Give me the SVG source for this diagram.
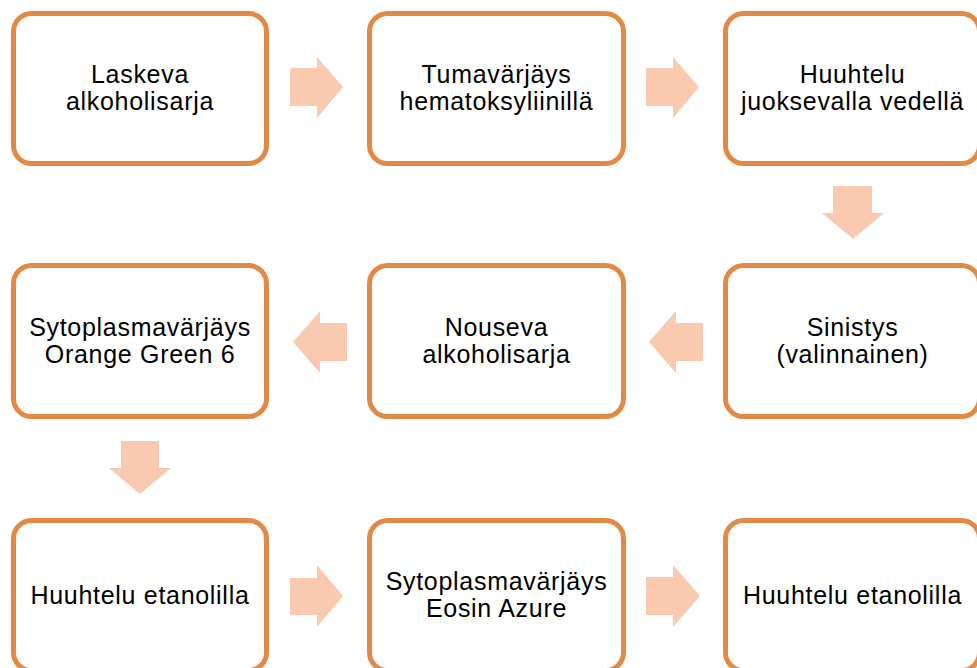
<svg xmlns="http://www.w3.org/2000/svg" width="977" height="668" viewBox="0 0 977 668">
<style>
.box{fill:#fff;stroke:#E28A45;stroke-width:5}
.arr{fill:#FACAB0;stroke:none}
text{font-family:"Liberation Sans",Arial,sans-serif;font-size:25px;fill:#000;text-anchor:middle;letter-spacing:0.7px}
</style>
<rect width="977" height="668" fill="#fff"/>
<g id="connectors">
<polygon class="arr" points="290,68 317,68 317,57 343,87 317,118 317,106 290,106"/>
<polygon class="arr" points="646,68 673,68 673,57 699,87 673,118 673,106 646,106"/>
<polygon class="arr" points="833,186 872,186 872,213 884,213 853,239 822,213 833,213"/>
<polygon class="arr" points="703,323 676,323 676,311 649,342 676,373 676,361 703,361"/>
<polygon class="arr" points="347,323 320,323 320,311 293,342 320,373 320,361 347,361"/>
<polygon class="arr" points="121,441 159,441 159,468 171,468 140,494 109,468 121,468"/>
<polygon class="arr" points="290,578 317,578 317,565 343,596 317,627 317,615 290,615"/>
<polygon class="arr" points="646,577 673,577 673,565 700,596 673,627 673,615 646,615"/>
</g>
<g id="n1"><rect class="box" x="13.5" y="13.5" width="253" height="150" rx="18"/><text x="140" y="83">Laskeva</text><text x="140" y="110">alkoholisarja</text></g>
<g id="n2"><rect class="box" x="369.5" y="13.5" width="254" height="150" rx="18"/><text x="496.5" y="83">Tumavärjäys</text><text x="496.5" y="110">hematoksyliinillä</text></g>
<g id="n3"><rect class="box" x="725.5" y="13.5" width="254" height="150" rx="18"/><text x="852.5" y="83">Huuhtelu</text><text x="852.5" y="110">juoksevalla vedellä</text></g>
<g id="n4"><rect class="box" x="725.5" y="265.5" width="254" height="151" rx="18"/><text x="852.5" y="336">Sinistys</text><text x="852.5" y="363">(valinnainen)</text></g>
<g id="n5"><rect class="box" x="369.5" y="265.5" width="254" height="151" rx="18"/><text x="496.5" y="336">Nouseva</text><text x="496.5" y="363">alkoholisarja</text></g>
<g id="n6"><rect class="box" x="13.5" y="265.5" width="253" height="151" rx="18"/><text x="140" y="336">Sytoplasmavärjäys</text><text x="140" y="363">Orange Green 6</text></g>
<g id="n7"><rect class="box" x="13.5" y="520.5" width="253" height="150" rx="18"/><text x="140" y="604">Huuhtelu etanolilla</text></g>
<g id="n8"><rect class="box" x="369.5" y="520.5" width="254" height="150" rx="18"/><text x="496.5" y="590">Sytoplasmavärjäys</text><text x="496.5" y="617">Eosin Azure</text></g>
<g id="n9"><rect class="box" x="725.5" y="520.5" width="254" height="150" rx="18"/><text x="852.5" y="604">Huuhtelu etanolilla</text></g>
</svg>
